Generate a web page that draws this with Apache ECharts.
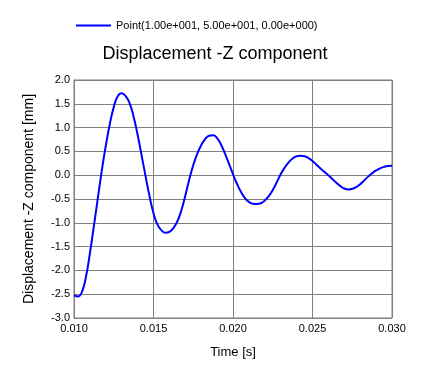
<!DOCTYPE html>
<html><head><meta charset="utf-8">
<script src="https://cdn.jsdelivr.net/npm/echarts@6/dist/echarts.min.js"></script>
<style>html,body{margin:0;padding:0;background:#fff}#c{width:430px;height:371px}</style>
</head><body><div id="c"></div>
<script>
const seriesName = 'Point(1.00e+001, 5.00e+001, 0.00e+000)';
const titleText = 'Displacement -Z component';
const xName = 'Time [s]';
const yName = 'Displacement -Z component [mm]';
const timeValues = [0.01000,0.01025,0.01050,0.01075,0.01100,0.01125,0.01150,0.01175,0.01200,0.01225,0.01250,0.01275,0.01300,0.01325,0.01350,0.01375,0.01400,0.01425,0.01450,0.01475,0.01500,0.01525,0.01550,0.01575,0.01600,0.01625,0.01650,0.01675,0.01700,0.01725,0.01750,0.01775,0.01800,0.01825,0.01850,0.01875,0.01900,0.01925,0.01950,0.01975,0.02000,0.02025,0.02050,0.02075,0.02100,0.02125,0.02150,0.02175,0.02200,0.02225,0.02250,0.02275,0.02300,0.02325,0.02350,0.02375,0.02400,0.02425,0.02450,0.02475,0.02500,0.02525,0.02550,0.02575,0.02600,0.02625,0.02650,0.02675,0.02700,0.02725,0.02750,0.02775,0.02800,0.02825,0.02850,0.02875,0.02900,0.02925,0.02950,0.02975,0.03000];
const dispValues = [-2.52,-2.55,-2.45,-2.14,-1.64,-1.07,-0.48,0.10,0.62,1.07,1.43,1.66,1.72,
  1.66,1.51,1.23,0.85,0.42,-0.02,-0.44,-0.80,-1.04,-1.16,-1.21,
  -1.19,-1.11,-0.97,-0.74,-0.43,-0.09,0.21,0.45,0.63,0.76,0.83,0.84,
  0.78,0.64,0.45,0.24,0.02,-0.18,-0.35,-0.48,-0.56,-0.60,-0.605,
  -0.59,-0.53,-0.44,-0.31,-0.15,0.02,0.16,0.27,0.35,0.40,0.41,
  0.40,0.36,0.30,0.22,0.14,0.07,0.00,-0.08,-0.16,-0.23,-0.28,-0.30,-0.285,
  -0.25,-0.19,-0.11,-0.03,0.04,0.10,0.145,0.175,0.195,0.20];
const xTicks = {min:0.010, max:0.030, interval:0.005};
const yTicks = {min:-3.0, max:2.0, interval:0.5};

const font = 'Liberation Sans, Arial, sans-serif';
const chart = echarts.init(document.getElementById('c'), null, {renderer:'canvas'});
chart.setOption({
  backgroundColor:'#ffffff',
  animation:false,
  title:{text:titleText, left:'center', top:45, textStyle:{fontFamily:font, fontSize:18, fontWeight:'normal', color:'#000'}, padding:0, itemGap:0},
  legend:{data:[seriesName], left:76, top:20, icon:'rect', itemWidth:35, itemHeight:2, itemGap:4, padding:0,
    textStyle:{fontFamily:font, fontSize:11, color:'#000', padding:[0,0,0,0]}},
  grid:{left:74, right:38, top:80, bottom:53, show:true, borderColor:'#808080', borderWidth:1, containLabel:false},
  xAxis:{type:'value', min:xTicks.min, max:xTicks.max, interval:xTicks.interval,
    name:xName, nameLocation:'middle', nameGap:28, nameTextStyle:{fontFamily:font, fontSize:13, color:'#000'},
    axisLine:{lineStyle:{color:'#808080'}}, axisTick:{show:false},
    axisLabel:{fontFamily:font, fontSize:11, color:'#000', margin:5, formatter:v=>v.toFixed(3)},
    splitLine:{show:true, lineStyle:{color:'#808080', width:1}}},
  yAxis:{type:'value', min:yTicks.min, max:yTicks.max, interval:yTicks.interval,
    name:yName, nameLocation:'middle', nameGap:38, nameTextStyle:{fontFamily:font, fontSize:14, color:'#000'},
    axisLine:{show:true, lineStyle:{color:'#808080'}}, axisTick:{show:false},
    axisLabel:{fontFamily:font, fontSize:11, color:'#000', margin:4, formatter:v=>v.toFixed(1)},
    splitLine:{show:true, lineStyle:{color:'#808080', width:1}}},
  series:[{name:seriesName, type:'line', showSymbol:false, symbol:'none', smooth:0.5,
    lineStyle:{color:'#0000ff', width:2}, itemStyle:{color:'#0000ff'},
    data:timeValues.map((t,i)=>[t, dispValues[i]])}]
});
</script></body></html>
